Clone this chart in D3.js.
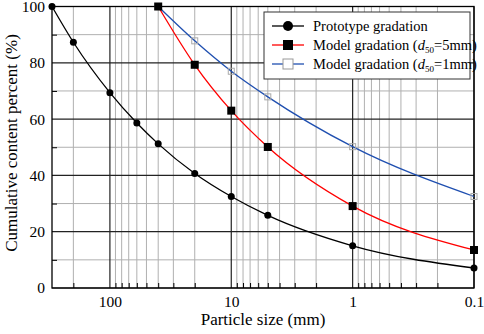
<!DOCTYPE html>
<html>
<head>
<meta charset="utf-8">
<script src="https://cdn.jsdelivr.net/npm/d3@7"></script>
<style>
  body { margin: 0; background: #fff; }
</style>
</head>
<body>
<div class="canvas"></div>
<script>
// particle sizes (mm) for each series
var protoSize = [300, 200, 100, 60, 40, 20, 10, 5, 1, 0.1];
var protoPct  = [100, 87.3, 69.4, 58.6, 51.2, 40.7, 32.5, 25.8, 15, 7.1];

var model5Size = [40, 20, 10, 5, 1, 0.1];
var model5Pct  = [100, 79.3, 63, 50.1, 29.1, 13.5];

var model1Size = [40, 20, 10, 5, 1, 0.1];
var model1Pct  = [100, 87.8, 77, 67.9, 50.2, 32.5];

var xMajor = [100, 10, 1, 0.1];
var xMinor = [200, 90, 80, 70, 60, 50, 40, 30, 20, 9, 8, 7, 6, 5, 4, 3, 2,
              0.9, 0.8, 0.7, 0.6, 0.5, 0.4, 0.3, 0.2];
var yMajor = [0, 20, 40, 60, 80, 100];
var yMinor = [10, 30, 50, 70, 90];

var W = 484, H = 334;
var pLeft = 52, pRight = 474, pTop = 6.5, pBottom = 288;
var serif = "Liberation Serif";

var svg = d3.select(".canvas")
			.append("svg")
			.attr("width", W)
			.attr("height", H)
			.attr("font-family", serif);

var x = d3.scaleLog().domain([300, 0.1]).range([pLeft, pRight]);
var y = d3.scaleLinear().domain([0, 100]).range([pBottom, pTop]);

// GRID

svg.selectAll(".vminor").data(xMinor).enter().append("line")
	.attr("x1", function(d){ return x(d); })
	.attr("x2", function(d){ return x(d); })
	.attr("y1", pTop).attr("y2", pBottom)
	.attr("stroke", "#b0b0b0").attr("stroke-width", 1);

svg.selectAll(".hminor").data(yMinor).enter().append("line")
	.attr("x1", pLeft).attr("x2", pRight)
	.attr("y1", function(d){ return y(d); })
	.attr("y2", function(d){ return y(d); })
	.attr("stroke", "#b0b0b0").attr("stroke-width", 1);

svg.selectAll(".vmajor").data(xMajor).enter().append("line")
	.attr("x1", function(d){ return x(d); })
	.attr("x2", function(d){ return x(d); })
	.attr("y1", pTop).attr("y2", pBottom)
	.attr("stroke", "#222").attr("stroke-width", 1.2);

svg.selectAll(".hmajor").data(yMajor).enter().append("line")
	.attr("x1", pLeft).attr("x2", pRight)
	.attr("y1", function(d){ return y(d); })
	.attr("y2", function(d){ return y(d); })
	.attr("stroke", "#222").attr("stroke-width", 1.2);

// AXES (inner ticks)

svg.append("g")
	.attr("transform", "translate(0," + pBottom + ")")
	.call(d3.axisTop(x).tickValues(xMinor).tickSize(5).tickFormat(""))
	.call(function(g){ g.select(".domain").remove(); g.selectAll("line").attr("stroke", "#000"); });

svg.append("g")
	.attr("transform", "translate(" + pLeft + ",0)")
	.call(d3.axisRight(y).tickValues(yMinor).tickSize(5).tickFormat(""))
	.call(function(g){ g.select(".domain").remove(); g.selectAll("line").attr("stroke", "#000"); });

svg.append("g")
	.attr("transform", "translate(0," + pBottom + ")")
	.call(d3.axisBottom(x).tickValues(xMajor).tickSize(0).tickPadding(8)
		.tickFormat(function(d){ return d >= 1 ? d3.format("d")(d) : d; }))
	.call(function(g){
		g.attr("font-family", serif).attr("font-size", 15.5);
		g.select(".domain").remove();
		g.selectAll("text").attr("fill", "#000");
	});

svg.append("g")
	.attr("transform", "translate(" + pLeft + ",0)")
	.call(d3.axisLeft(y).tickValues(yMajor).tickSize(0).tickPadding(7))
	.call(function(g){
		g.attr("font-family", serif).attr("font-size", 15.5);
		g.select(".domain").remove();
		g.selectAll("text").attr("fill", "#000");
	});

svg.append("rect")
	.attr("x", pLeft).attr("y", pTop)
	.attr("width", pRight - pLeft).attr("height", pBottom - pTop)
	.attr("fill", "none").attr("stroke", "#000").attr("stroke-width", 1.3);

// AXIS TITLES

svg.append("text")
	.attr("x", 263)
	.attr("y", 325)
	.attr("text-anchor", "middle")
	.attr("font-size", 17)
	.text("Particle size (mm)");

svg.append("text")
	.attr("transform", "translate(17,143) rotate(-90)")
	.attr("text-anchor", "middle")
	.attr("font-size", 17)
	.text("Cumulative content percent (%)");

// SERIES

var line = d3.line()
	.x(function(d){ return x(d[0]); })
	.y(function(d){ return y(d[1]); })
	.curve(d3.curveMonotoneX);

var proto = d3.zip(protoSize, protoPct);
var model5 = d3.zip(model5Size, model5Pct);
var model1 = d3.zip(model1Size, model1Pct);

svg.append("path").datum(model1).attr("d", line)
	.attr("fill", "none").attr("stroke", "#1f4fb0").attr("stroke-width", 1.3);
svg.append("path").datum(model5).attr("d", line)
	.attr("fill", "none").attr("stroke", "#ff0000").attr("stroke-width", 1.3);
svg.append("path").datum(proto).attr("d", line)
	.attr("fill", "none").attr("stroke", "#000").attr("stroke-width", 1.3);

svg.selectAll(".m1").data(model1).enter().append("rect")
	.attr("x", function(d){ return x(d[0]) - 3; })
	.attr("y", function(d){ return y(d[1]) - 3; })
	.attr("width", 6).attr("height", 6)
	.attr("fill", "none").attr("stroke", "#aaa").attr("stroke-width", 1);

svg.selectAll(".m5").data(model5).enter().append("rect")
	.attr("x", function(d){ return x(d[0]) - 4; })
	.attr("y", function(d){ return y(d[1]) - 4; })
	.attr("width", 8).attr("height", 8)
	.attr("fill", "#000");

svg.selectAll(".pr").data(proto).enter().append("circle")
	.attr("cx", function(d){ return x(d[0]); })
	.attr("cy", function(d){ return y(d[1]); })
	.attr("r", 3.5)
	.attr("fill", "#000");

// LEGEND

var lg = svg.append("g").attr("transform", "translate(264,12)");

lg.append("rect")
	.attr("width", 206).attr("height", 67)
	.attr("fill", "#fff").attr("stroke", "#333").attr("stroke-width", 1);

var legendItems = [
	{ label: "Prototype gradation", color: "#000", mark: "circle" },
	{ label: "Model gradation (", sub: "50", tail: "=5mm)", color: "#ff0000", mark: "filled" },
	{ label: "Model gradation (", sub: "50", tail: "=1mm)", color: "#1f4fb0", mark: "open" }
];

legendItems.forEach(function(item, i){
	var cy = 14 + i * 19;
	lg.append("line")
		.attr("x1", 8).attr("x2", 40)
		.attr("y1", cy).attr("y2", cy)
		.attr("stroke", item.color).attr("stroke-width", 1.3);

	if (item.mark == "circle") {
		lg.append("circle").attr("cx", 24).attr("cy", cy).attr("r", 5).attr("fill", "#000");
	} else if (item.mark == "filled") {
		lg.append("rect").attr("x", 19).attr("y", cy - 5).attr("width", 10).attr("height", 10).attr("fill", "#000");
	} else {
		lg.append("rect").attr("x", 19).attr("y", cy - 5).attr("width", 10).attr("height", 10)
			.attr("fill", "#fff").attr("stroke", "#999");
	}

	var t = lg.append("text")
		.attr("x", 49).attr("y", cy + 5)
		.attr("font-size", 14.5);
	t.append("tspan").text(item.label);
	if (item.sub) {
		t.append("tspan").attr("font-style", "italic").text("d");
		t.append("tspan").attr("font-size", 9).attr("dy", 3).text(item.sub);
		t.append("tspan").attr("dy", -3).text(item.tail);
	}
});
</script>
</body>
</html>
